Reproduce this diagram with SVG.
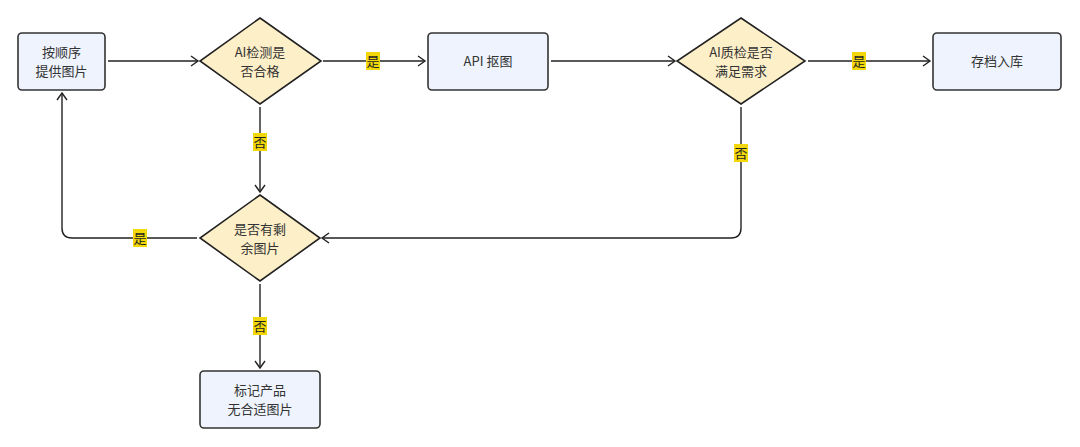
<svg xmlns="http://www.w3.org/2000/svg" width="1080" height="447" viewBox="0 0 1080 447">
<style>
.box{fill:#eef3fd;stroke:#333;stroke-width:1.6}
.dia{fill:#fdefc8;stroke:#222;stroke-width:1.6}
.t{font-family:"Noto Sans CJK SC","Noto Sans",sans-serif;font-size:13px;fill:#333;text-anchor:middle}
.e{fill:none;stroke:#222;stroke-width:1.4;marker-end:url(#a)}
.lb{fill:#f2d80a}
.lt{font-family:"Noto Sans CJK SC",sans-serif;font-size:13px;fill:#222;text-anchor:middle}
</style>
<defs><marker id="a" markerWidth="10" markerHeight="12" refX="8" refY="6" orient="auto" markerUnits="userSpaceOnUse"><path d="M1,1 L8,6 L1,11" fill="none" stroke="#222" stroke-width="1.4"/></marker></defs>
<rect width="1080" height="447" fill="#fff"/>
<g id="connectors">
<path class="e" d="M108,61 H198"/>
<path class="e" d="M323,61 H425"/>
<path class="e" d="M551,61 H675"/>
<path class="e" d="M808,61 H930"/>
<path class="e" d="M260,107 V192"/>
<path class="e" d="M741,107 V228 Q741,238 731,238 H322"/>
<path class="e" d="M197,238 H72 Q62,238 62,228 V93"/>
<path class="e" d="M260,284 V368"/>
<rect class="lb" x="366" y="52" width="14" height="18"/><text class="lt" x="373" y="66">是</text>
<rect class="lb" x="852" y="52" width="14" height="18"/><text class="lt" x="859" y="66">是</text>
<rect class="lb" x="253" y="133" width="14" height="18"/><text class="lt" x="260" y="147">否</text>
<rect class="lb" x="734" y="144" width="14" height="18"/><text class="lt" x="741" y="158">否</text>
<rect class="lb" x="133" y="229" width="14" height="18"/><text class="lt" x="140" y="243">是</text>
<rect class="lb" x="253" y="317" width="14" height="18"/><text class="lt" x="260" y="331">否</text>
</g>
<g id="n1"><rect class="box" x="18" y="33" width="87" height="57" rx="4"/><text class="t" x="61.5" y="57">按顺序</text><text class="t" x="61.5" y="76">提供图片</text></g>
<g id="n2"><polygon class="dia" points="260,18 321,61 260,104 200,61"/><text class="t" x="260" y="57">AI检测是</text><text class="t" x="260" y="76">否合格</text></g>
<g id="n3"><rect class="box" x="428" y="33" width="120" height="57" rx="4"/><text class="t" x="488" y="66">API 抠图</text></g>
<g id="n4"><polygon class="dia" points="741,18 805,61 741,104 677,61"/><text class="t" x="741" y="57">AI质检是否</text><text class="t" x="741" y="76">满足需求</text></g>
<g id="n5"><rect class="box" x="933" y="33" width="128" height="57" rx="4"/><text class="t" x="997" y="66">存档入库</text></g>
<g id="n6"><polygon class="dia" points="260,195 320,238 260,281 200,238"/><text class="t" x="260" y="234">是否有剩</text><text class="t" x="260" y="253">余图片</text></g>
<g id="n7"><rect class="box" x="200" y="371" width="120" height="57" rx="4"/><text class="t" x="260" y="395">标记产品</text><text class="t" x="260" y="414">无合适图片</text></g>
</svg>
